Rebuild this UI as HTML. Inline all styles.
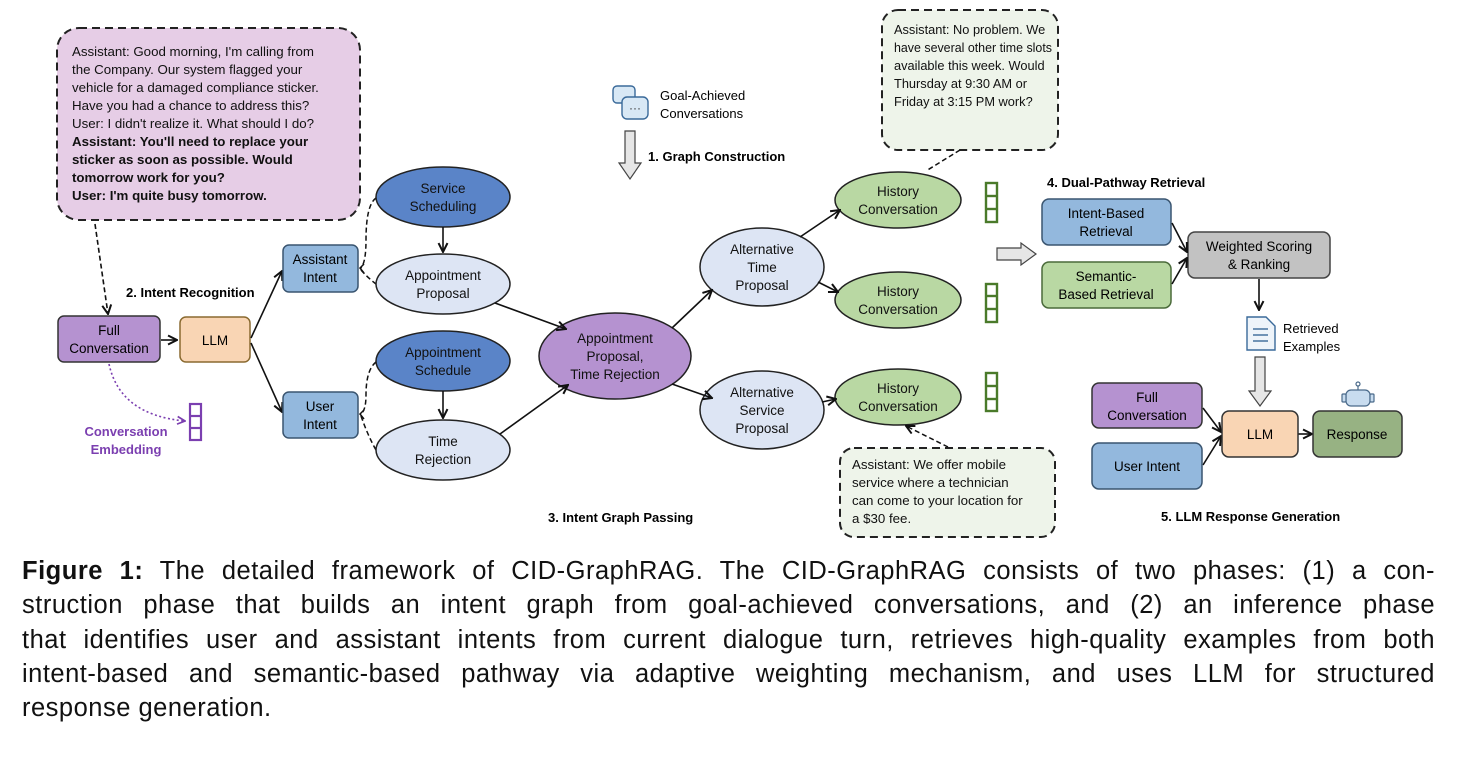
<!DOCTYPE html>
<html><head><meta charset="utf-8"><style>
body{margin:0;width:1457px;height:768px;background:#fff;overflow:hidden;font-family:"Liberation Sans",sans-serif;}
svg{position:absolute;left:0;top:0}
.cap{position:absolute;left:22px;top:554px;width:1413px;font-size:25.5px;letter-spacing:0.5px;line-height:34.3px;color:#111;font-family:"Liberation Sans",sans-serif;}
.cap div{text-align:justify;text-align-last:justify;white-space:nowrap}
.cap div.l{text-align-last:left}
</style></head><body>
<svg width="1457" height="560" viewBox="0 0 1457 560" font-family="Liberation Sans, sans-serif">
<defs>
<marker id="a" viewBox="0 0 10 10" refX="9" refY="5" markerWidth="7" markerHeight="7" orient="auto"><path d="M1,1 L9,5 L1,9" fill="none" stroke="#111" stroke-width="1.8"/></marker>
<marker id="p" viewBox="0 0 10 10" refX="9" refY="5" markerWidth="6" markerHeight="6" orient="auto"><path d="M1,1 L9,5 L1,9" fill="none" stroke="#7b3fb0" stroke-width="1.8"/></marker>
</defs>
<rect x="57" y="28" width="303" height="192" rx="22" fill="#e6cde6" stroke="#222" stroke-width="2" stroke-dasharray="8,5"/>
<g font-size="13.3" fill="#111">
<text x="72" y="56">Assistant: Good morning, I'm calling from</text>
<text x="72" y="74">the Company. Our system flagged your</text>
<text x="72" y="92">vehicle for a damaged compliance sticker.</text>
<text x="72" y="110">Have you had a chance to address this?</text>
<text x="72" y="128">User: I didn't realize it. What should I do?</text>
<g font-weight="bold">
<text x="72" y="146">Assistant: You'll need to replace your</text>
<text x="72" y="164">sticker as soon as possible. Would</text>
<text x="72" y="182">tomorrow work for you?</text>
<text x="72" y="200">User: I'm quite busy tomorrow.</text></g></g>
<path d="M95,224 L108,314" stroke="#111" stroke-width="1.6" stroke-dasharray="5,3" fill="none" marker-end="url(#a)"/>
<rect x="58" y="316" width="102" height="46" rx="6" fill="#b592d0" stroke="#333" stroke-width="1.5"/>
<text x="109" y="335" font-size="13.5" text-anchor="middle">Full</text><text x="109" y="353" font-size="13.5" text-anchor="middle">Conversation</text>
<line x1="161" y1="340" x2="177" y2="340" stroke="#111" stroke-width="1.6" marker-end="url(#a)"/>
<rect x="180" y="317" width="70" height="45" rx="6" fill="#f9d5b4" stroke="#8a6a30" stroke-width="1.5"/>
<text x="215" y="345" font-size="13.5" text-anchor="middle">LLM</text>
<text x="126" y="297" font-size="13" font-weight="bold">2. Intent Recognition</text>
<line x1="251" y1="338" x2="282" y2="271" stroke="#111" stroke-width="1.6" marker-end="url(#a)"/>
<line x1="251" y1="343" x2="282" y2="412" stroke="#111" stroke-width="1.6" marker-end="url(#a)"/>
<rect x="283" y="245" width="75" height="47" rx="6" fill="#93b8dd" stroke="#3a5570" stroke-width="1.5"/>
<text x="320" y="264" font-size="13.5" text-anchor="middle">Assistant</text><text x="320" y="282" font-size="13.5" text-anchor="middle">Intent</text>
<rect x="283" y="392" width="75" height="46" rx="6" fill="#93b8dd" stroke="#3a5570" stroke-width="1.5"/>
<text x="320" y="411" font-size="13.5" text-anchor="middle">User</text><text x="320" y="429" font-size="13.5" text-anchor="middle">Intent</text>
<path d="M109,364 Q120,415 185,421" stroke="#7b3fb0" stroke-width="1.6" stroke-dasharray="2,2.5" fill="none" marker-end="url(#p)"/>
<g fill="none" stroke="#7b3fb0" stroke-width="2.2"><rect x="190" y="404" width="11" height="36"/><line x1="190" y1="416" x2="201" y2="416"/><line x1="190" y1="428" x2="201" y2="428"/></g>
<text x="126" y="436" font-size="13" font-weight="bold" fill="#7b3fb0" text-anchor="middle">Conversation</text>
<text x="126" y="454" font-size="13" font-weight="bold" fill="#7b3fb0" text-anchor="middle">Embedding</text>
<g stroke="#111" stroke-width="1.5" stroke-dasharray="5,3" fill="none">
<path d="M376,198 Q366,205 366,240 Q366,262 361,268"/>
<path d="M361,270 Q368,278 376,284"/>
<path d="M376,362 Q366,370 366,395 Q366,410 361,414"/>
<path d="M361,416 Q368,436 376,450"/>
</g>
<path d="M364,264 L360,268 L364,273 M364,410 L360,414 L364,419" stroke="#111" stroke-width="1.5" fill="none"/>
<g stroke="#222" stroke-width="1.5">
<ellipse cx="443" cy="197" rx="67" ry="30" fill="#5a84c8"/>
<ellipse cx="443" cy="284" rx="67" ry="30" fill="#dde5f4"/>
<ellipse cx="443" cy="361" rx="67" ry="30" fill="#5a84c8"/>
<ellipse cx="443" cy="450" rx="67" ry="30" fill="#dde5f4"/>
<ellipse cx="615" cy="356" rx="76" ry="43" fill="#b592d0"/>
<ellipse cx="762" cy="267" rx="62" ry="39" fill="#dde5f4"/>
<ellipse cx="762" cy="410" rx="62" ry="39" fill="#dde5f4"/>
<ellipse cx="898" cy="200" rx="63" ry="28" fill="#b9d8a3"/>
<ellipse cx="898" cy="300" rx="63" ry="28" fill="#b9d8a3"/>
<ellipse cx="898" cy="397" rx="63" ry="28" fill="#b9d8a3"/>
</g>
<g font-size="13.5" text-anchor="middle" fill="#111">
<text x="443" y="193">Service</text><text x="443" y="211">Scheduling</text>
<text x="443" y="280">Appointment</text><text x="443" y="298">Proposal</text>
<text x="443" y="357">Appointment</text><text x="443" y="375">Schedule</text>
<text x="443" y="446">Time</text><text x="443" y="464">Rejection</text>
<text x="615" y="343">Appointment</text><text x="615" y="361">Proposal,</text><text x="615" y="379">Time Rejection</text>
<text x="762" y="254">Alternative</text><text x="762" y="272">Time</text><text x="762" y="290">Proposal</text>
<text x="762" y="397">Alternative</text><text x="762" y="415">Service</text><text x="762" y="433">Proposal</text>
<text x="898" y="196">History</text><text x="898" y="214">Conversation</text>
<text x="898" y="296">History</text><text x="898" y="314">Conversation</text>
<text x="898" y="393">History</text><text x="898" y="411">Conversation</text>
</g>
<g stroke="#111" stroke-width="1.6" fill="none" marker-end="url(#a)">
<line x1="443" y1="227" x2="443" y2="252"/>
<line x1="443" y1="391" x2="443" y2="418"/>
<line x1="495" y1="303" x2="566" y2="329"/>
<line x1="500" y1="434" x2="568" y2="385"/>
<line x1="672" y1="328" x2="712" y2="290"/>
<line x1="672" y1="384" x2="712" y2="398"/>
<line x1="800" y1="237" x2="840" y2="210"/>
<line x1="818" y1="282" x2="838" y2="292"/>
<line x1="822" y1="402" x2="836" y2="399"/>
</g>
<g fill="none" stroke="#4a7a2a" stroke-width="2.4">
<rect x="986" y="183" width="11" height="39"/><line x1="986" y1="196" x2="997" y2="196"/><line x1="986" y1="209" x2="997" y2="209"/>
<rect x="986" y="284" width="11" height="38"/><line x1="986" y1="296" x2="997" y2="296"/><line x1="986" y1="309" x2="997" y2="309"/>
<rect x="986" y="373" width="11" height="38"/><line x1="986" y1="386" x2="997" y2="386"/><line x1="986" y1="399" x2="997" y2="399"/>
</g>
<rect x="882" y="10" width="176" height="140" rx="16" fill="#eef4ea" stroke="#222" stroke-width="2" stroke-dasharray="8,5"/>
<g font-size="12.8" fill="#111">
<text x="894" y="34">Assistant: No problem. We</text>
<text x="894" y="52" textLength="158" lengthAdjust="spacingAndGlyphs">have several other time slots</text>
<text x="894" y="70">available this week. Would</text>
<text x="894" y="88">Thursday at 9:30 AM or</text>
<text x="894" y="106">Friday at 3:15 PM work?</text></g>
<path d="M960,150 L926,171" stroke="#111" stroke-width="1.5" stroke-dasharray="5,3" fill="none"/>
<rect x="840" y="448" width="215" height="89" rx="14" fill="#eef4ea" stroke="#222" stroke-width="2" stroke-dasharray="8,5"/>
<g font-size="13.3" fill="#111">
<text x="852" y="469">Assistant: We offer mobile</text>
<text x="852" y="487">service where a technician</text>
<text x="852" y="505">can come to your location for</text>
<text x="852" y="523">a $30 fee.</text></g>
<path d="M948,447 L906,426" stroke="#111" stroke-width="1.5" stroke-dasharray="5,3" fill="none" marker-end="url(#a)"/>
<g stroke="#3a6a9a" stroke-width="1.4" fill="#d8e8f5"><rect x="613" y="86" width="22" height="17" rx="4"/><rect x="622" y="97" width="26" height="22" rx="5"/></g>
<text x="635" y="112" font-size="12" text-anchor="middle" fill="#333">···</text>
<text x="660" y="100" font-size="13">Goal-Achieved</text><text x="660" y="118" font-size="13">Conversations</text>
<path d="M625,131 L635,131 L635,163 L641,163 L630,179 L619,163 L625,163 Z" fill="#e6e6e6" stroke="#444" stroke-width="1.2"/>
<text x="648" y="161" font-size="13" font-weight="bold">1. Graph Construction</text>
<text x="548" y="522" font-size="13" font-weight="bold">3. Intent Graph Passing</text>
<path d="M997,248 L1021,248 L1021,243 L1036,254 L1021,265 L1021,260 L997,260 Z" fill="#e6e6e6" stroke="#444" stroke-width="1.2"/>
<text x="1047" y="187" font-size="13" font-weight="bold">4. Dual-Pathway Retrieval</text>
<rect x="1042" y="199" width="129" height="46" rx="7" fill="#93b8dd" stroke="#3a5570" stroke-width="1.5"/>
<text x="1106" y="218" font-size="13.5" text-anchor="middle">Intent-Based</text><text x="1106" y="236" font-size="13.5" text-anchor="middle">Retrieval</text>
<rect x="1042" y="262" width="129" height="46" rx="7" fill="#b9d8a3" stroke="#4a6a3a" stroke-width="1.5"/>
<text x="1106" y="281" font-size="13.5" text-anchor="middle">Semantic-</text><text x="1106" y="299" font-size="13.5" text-anchor="middle">Based Retrieval</text>
<rect x="1188" y="232" width="142" height="46" rx="7" fill="#c2c2c2" stroke="#444" stroke-width="1.5"/>
<text x="1259" y="251" font-size="13.5" text-anchor="middle">Weighted Scoring</text><text x="1259" y="269" font-size="13.5" text-anchor="middle">&amp; Ranking</text>
<g stroke="#111" stroke-width="1.6" fill="none" marker-end="url(#a)">
<line x1="1172" y1="223" x2="1187" y2="252"/>
<line x1="1172" y1="284" x2="1187" y2="258"/>
<line x1="1259" y1="279" x2="1259" y2="310"/>
<line x1="1203" y1="408" x2="1221" y2="432"/>
<line x1="1203" y1="465" x2="1221" y2="436"/>
<line x1="1298" y1="434" x2="1312" y2="434"/>
</g>
<path d="M1247,317 L1266,317 L1275,326 L1275,350 L1247,350 Z" fill="#eef4fa" stroke="#3a6a9a" stroke-width="1.4"/>
<g stroke="#3a6a9a" stroke-width="1.4"><line x1="1253" y1="329" x2="1268" y2="329"/><line x1="1253" y1="335" x2="1268" y2="335"/><line x1="1253" y1="341" x2="1268" y2="341"/></g>
<text x="1283" y="333" font-size="13">Retrieved</text><text x="1283" y="351" font-size="13">Examples</text>
<path d="M1255,357 L1265,357 L1265,391 L1271,391 L1260,406 L1249,391 L1255,391 Z" fill="#e6e6e6" stroke="#444" stroke-width="1.2"/>
<rect x="1092" y="383" width="110" height="45" rx="7" fill="#b592d0" stroke="#333" stroke-width="1.5"/>
<text x="1147" y="402" font-size="13.5" text-anchor="middle">Full</text><text x="1147" y="420" font-size="13.5" text-anchor="middle">Conversation</text>
<rect x="1092" y="443" width="110" height="46" rx="7" fill="#93b8dd" stroke="#3a5570" stroke-width="1.5"/>
<text x="1147" y="471" font-size="13.5" text-anchor="middle">User Intent</text>
<rect x="1222" y="411" width="76" height="46" rx="7" fill="#f9d5b4" stroke="#333" stroke-width="1.5"/>
<text x="1260" y="439" font-size="13.5" text-anchor="middle">LLM</text>
<rect x="1313" y="411" width="89" height="46" rx="7" fill="#97b283" stroke="#333" stroke-width="1.5"/>
<text x="1357" y="439" font-size="13.5" text-anchor="middle">Response</text>
<g stroke="#4a6a8a" stroke-width="1.2" fill="#c8dcef"><rect x="1346" y="390" width="24" height="16" rx="5"/><rect x="1342" y="394" width="4" height="8" rx="1"/><rect x="1370" y="394" width="4" height="8" rx="1"/><line x1="1358" y1="390" x2="1358" y2="385"/><circle cx="1358" cy="384" r="2" fill="#fff"/></g>
<text x="1161" y="521" font-size="13" font-weight="bold">5. LLM Response Generation</text>
</svg>
<div class="cap">
<div><b>Figure 1:</b> The detailed framework of CID-GraphRAG. The CID-GraphRAG consists of two phases: (1) a con-</div>
<div>struction phase that builds an intent graph from goal-achieved conversations, and (2) an inference phase</div>
<div>that identifies user and assistant intents from current dialogue turn, retrieves high-quality examples from both</div>
<div>intent-based and semantic-based pathway via adaptive weighting mechanism, and uses LLM for structured</div>
<div class="l">response generation.</div>
</div>
</body></html>
